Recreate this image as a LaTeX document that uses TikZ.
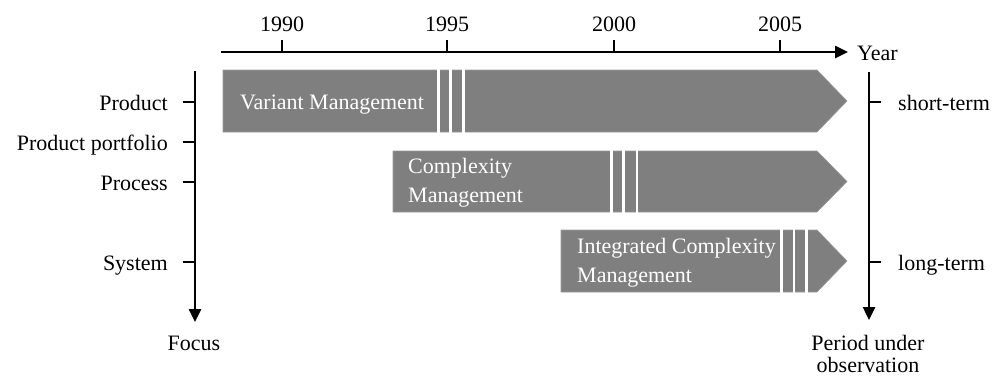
\documentclass[tikz,border=0pt]{standalone}
\usepackage{fontspec}
\setmainfont{Liberation Serif}
\usetikzlibrary{arrows.meta}
\begin{document}
\begin{tikzpicture}[x=1pt,y=-1pt,
  axis/.style={line width=2.5pt,-{Triangle[length=13pt,width=12pt]}},
  tick/.style={line width=2.5pt},
  lbl/.style={inner sep=0pt,font=\fontsize{22}{23}\selectfont},
  barlbl/.style={inner sep=0pt,font=\fontsize{22}{29}\selectfont,text=white,align=left},
  bar/.style={fill=barfill,draw=barfill!80!white,line width=0.6pt},
  gap/.style={draw=white,line width=2.8pt}]
\definecolor{barfill}{RGB}{127,127,127}
\useasboundingbox (0,0) rectangle (1003,376);

% bars
\draw[bar] (223,70) -- (817,70) -- (847,101) -- (817,132) -- (223,132) -- cycle;
\foreach \x in {438.5,450.5,463.5} \draw[gap] (\x,69) -- (\x,133);
\draw[bar] (393,151) -- (817,151) -- (847,181.5) -- (817,212) -- (393,212) -- cycle;
\foreach \x in {611.5,623.5,637} \draw[gap] (\x,150) -- (\x,213);
\draw[bar] (561,230) -- (817,230) -- (847,261) -- (817,292) -- (561,292) -- cycle;
\foreach \x in {781.5,794,806.5} \draw[gap] (\x,229) -- (\x,293);

\node[barlbl,anchor=base west] (vm) at (240,109) {Variant Management};
\node[barlbl,anchor=west] (cm) at (408,183) {Complexity\\Management};
\node[barlbl,anchor=west] (icm) at (577,263) {Integrated Complexity\\Management};

% top axis
\coordinate (ys) at (221,52);
\coordinate (ye) at (848,52);
\draw[axis] (ys) -- (ye);
\node[lbl,anchor=west] (year) at (857,53) {Year};
\foreach \x/\y in {282/1990,447/1995,614/2000,780/2005}{
  \coordinate (t\y) at (\x,52);
  \draw[tick] (t\y) -- ++(0,-12);
  \node[lbl,anchor=base] (l\y) at (\x,31) {\y};
}

% left axis
\coordinate (fs) at (195,71);
\coordinate (fe) at (195,322);
\draw[axis] (fs) -- (fe);
\foreach \y/\t/\n in {102/Product/p1,142/Product portfolio/p2,182/Process/p3,262/System/p4}{
  \coordinate (c\n) at (195,\y);
  \draw[tick] (c\n) -- ++(-12,0);
  \node[lbl,anchor=base east] (\n) at (168,\y+8) {\t};
}
\node[lbl,anchor=base] (focus) at (194,350) {Focus};

% right axis
\coordinate (rs) at (869,72);
\coordinate (re) at (869,320);
\draw[axis] (rs) -- (re);
\coordinate (cs) at (869,102);
\coordinate (cl) at (869,262);
\draw[tick] (cs) -- ++(12,0);
\draw[tick] (cl) -- ++(12,0);
\node[lbl,anchor=base west] (st) at (898,110) {short-term};
\node[lbl,anchor=base west] (lt) at (898,270) {long-term};
\node[lbl,anchor=base,align=center] (pu) at (868,350) {Period under};
\node[lbl,anchor=base,align=center] (ob) at (868,372) {observation};
\end{tikzpicture}
\end{document}
